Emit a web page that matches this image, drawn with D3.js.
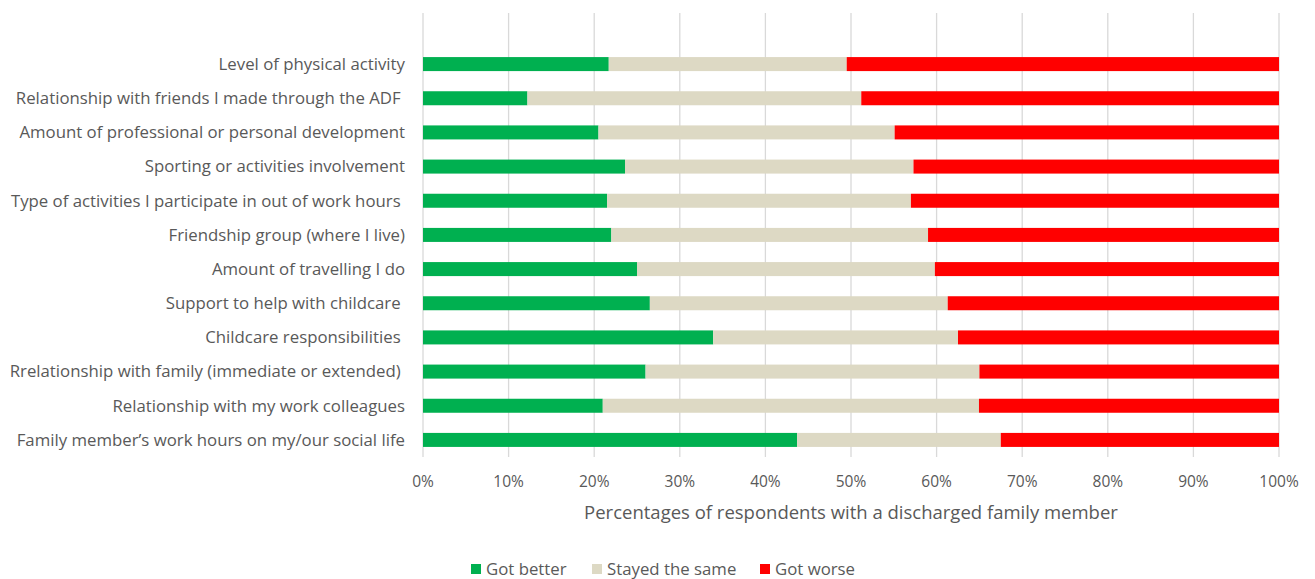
<!DOCTYPE html>
<html><head><meta charset="utf-8">
<script src="https://cdn.jsdelivr.net/npm/d3@7/dist/d3.min.js"></script>
<style>body{margin:0;background:#fff}text{font-family:"Open Sans","Noto Sans",sans-serif;fill:#595959}</style>
</head><body><svg id="c" width="1315" height="579"></svg>
<script>
const categories = [
  "Level of physical activity",
  "Relationship with friends I made through the ADF ",
  "Amount of professional or personal development",
  "Sporting or activities involvement",
  "Type of activities I participate in out of work hours ",
  "Friendship group (where I live)",
  "Amount of travelling I do",
  "Support to help with childcare ",
  "Childcare responsibilities ",
  "Rrelationship with family (immediate or extended) ",
  "Relationship with my work colleagues",
  "Family member\u2019s work hours on my/our social life"
];
const gotBetter = [21.7, 12.2, 20.5, 23.6, 21.5, 22.0, 25.0, 26.5, 33.9, 26.0, 21.0, 43.7];
const stayedSame = [27.8, 39.0, 34.6, 33.7, 35.5, 37.0, 34.8, 34.8, 28.6, 39.0, 43.95, 23.8];
const gotWorse = gotBetter.map((g,i)=>+(100 - g - stayedSame[i]).toFixed(2));
const seriesNames = ["Got better","Stayed the same","Got worse"];
const colors = ["#00B050","#DDD9C4","#FF0000"];
const tickValues = [0,10,20,30,40,50,60,70,80,90,100];

const svg = d3.select("#c");
const x = d3.scaleLinear().domain([0,100]).range([423,1279]);
const y = d3.scaleBand().domain(categories).range([47,457]).paddingInner(0.59).paddingOuter(0.295);

svg.append("g").selectAll("line").data(tickValues).join("line")
  .attr("x1",d=>x(d)).attr("x2",d=>x(d)).attr("y1",13).attr("y2",457)
  .attr("stroke","#D9D9D9").attr("stroke-width",1.3);

const rows = categories.map((c,i)=>({cat:c, v:[gotBetter[i],stayedSame[i],gotWorse[i]]}));
const stack = d3.stack().keys([0,1,2]).value((d,k)=>d.v[k]);
const layers = stack(rows);
svg.append("g").selectAll("g").data(layers).join("g")
  .attr("fill",(d,i)=>colors[i])
  .selectAll("rect").data(d=>d).join("rect")
  .attr("x",d=>x(d[0])).attr("width",d=>x(d[1])-x(d[0]))
  .attr("y",d=>y(d.data.cat)).attr("height",y.bandwidth());

svg.append("g").selectAll("text").data(categories).join("text")
  .attr("x",405).attr("y",d=>y(d)+y.bandwidth()/2).attr("dy","0.35em")
  .attr("text-anchor","end").style("white-space","pre").attr("font-size",16.8).text(d=>d);

svg.append("g").selectAll("text").data(tickValues).join("text")
  .attr("x",d=>x(d)).attr("y",482).attr("dy","0.35em").attr("text-anchor","middle")
  .attr("font-size",15.5).text(d=>d3.format(".0%")(d/100));

svg.append("text").attr("x",851).attr("y",513).attr("dy","0.35em").attr("text-anchor","middle")
  .attr("font-size",18.5).text("Percentages of respondents with a discharged family member");

const legX = [471,592,760];
const leg = svg.append("g").selectAll("g").data(seriesNames).join("g")
  .attr("transform",(d,i)=>`translate(${legX[i]},569)`);
leg.append("rect").attr("x",0).attr("y",-5).attr("width",10).attr("height",10).attr("fill",(d,i)=>colors[i]);
leg.append("text").attr("x",15).attr("dy","0.35em").attr("font-size",16.8).text(d=>d);
</script></body></html>
